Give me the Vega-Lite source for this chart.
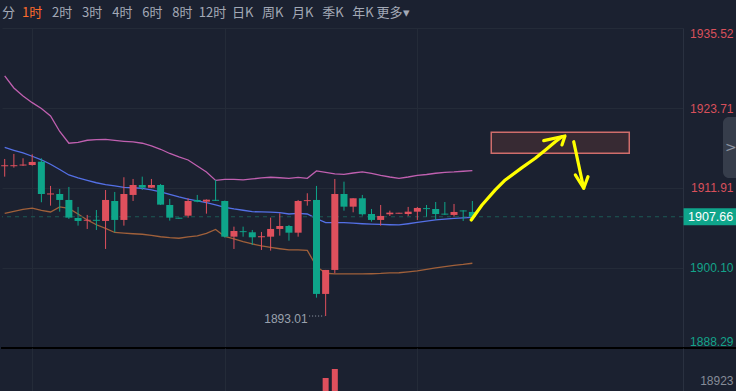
{
  "$schema": "https://vega.github.io/schema/vega-lite/v6.json",
  "background": "#1b2130",
  "padding": 0,
  "spacing": 0,
  "bounds": "flush",
  "config": {"view": {"stroke": null}, "axis": {"labelFont": "Liberation Sans"}},
  "datasets": {
    "k": [
      {"i":0,"o":1915.12,"h":1916.19,"l":1913.58,"c":1915.27,"up":1928.44,"mid":1917.89,"lo":1908.15},
      {"i":1,"o":1915.12,"h":1916.93,"l":1914.91,"c":1915.27,"up":1926.67,"mid":1917.47,"lo":1908.44},
      {"i":2,"o":1915.22,"h":1916.29,"l":1915.15,"c":1915.37,"up":1925.49,"mid":1917.08,"lo":1908.74},
      {"i":3,"o":1915.30,"h":1916.88,"l":1915.20,"c":1915.75,"up":1924.50,"mid":1916.59,"lo":1908.92},
      {"i":4,"o":1915.79,"h":1916.29,"l":1909.80,"c":1911.02,"up":1923.64,"mid":1916.07,"lo":1908.59},
      {"i":5,"o":1910.95,"h":1912.21,"l":1909.30,"c":1911.10,"up":1922.54,"mid":1915.41,"lo":1908.37},
      {"i":6,"o":1911.02,"h":1911.76,"l":1908.41,"c":1910.14,"up":1920.25,"mid":1914.64,"lo":1909.11},
      {"i":7,"o":1910.14,"h":1912.06,"l":1907.34,"c":1907.53,"up":1918.51,"mid":1913.83,"lo":1908.89},
      {"i":8,"o":1907.48,"h":1909.11,"l":1906.35,"c":1907.04,"up":1918.65,"mid":1913.39,"lo":1908.07},
      {"i":9,"o":1907.07,"h":1907.93,"l":1905.86,"c":1907.21,"up":1918.95,"mid":1913.02,"lo":1907.19},
      {"i":10,"o":1907.21,"h":1908.66,"l":1905.71,"c":1907.07,"up":1919.04,"mid":1912.68,"lo":1906.48},
      {"i":11,"o":1907.04,"h":1911.61,"l":1902.91,"c":1910.14,"up":1919.07,"mid":1912.41,"lo":1905.94},
      {"i":12,"o":1909.99,"h":1911.32,"l":1905.37,"c":1907.19,"up":1918.92,"mid":1912.21,"lo":1905.34},
      {"i":13,"o":1907.19,"h":1913.49,"l":1906.35,"c":1911.02,"up":1918.80,"mid":1912.01,"lo":1905.23},
      {"i":14,"o":1910.88,"h":1913.24,"l":1909.99,"c":1912.35,"up":1918.70,"mid":1911.94,"lo":1905.15},
      {"i":15,"o":1912.35,"h":1913.58,"l":1911.61,"c":1911.95,"up":1918.51,"mid":1911.84,"lo":1905.08},
      {"i":16,"o":1911.95,"h":1913.24,"l":1911.90,"c":1912.35,"up":1918.11,"mid":1911.62,"lo":1904.90},
      {"i":17,"o":1912.35,"h":1912.50,"l":1909.40,"c":1909.45,"up":1917.62,"mid":1911.32,"lo":1904.71},
      {"i":18,"o":1909.40,"h":1910.29,"l":1907.09,"c":1907.53,"up":1917.00,"mid":1910.95,"lo":1904.58},
      {"i":19,"o":1907.52,"h":1907.52,"l":1907.38,"c":1907.38,"up":1916.49,"mid":1910.58,"lo":1904.49},
      {"i":20,"o":1907.82,"h":1910.39,"l":1907.53,"c":1909.99,"up":1916.04,"mid":1910.26,"lo":1904.68},
      {"i":21,"o":1910.14,"h":1910.88,"l":1909.80,"c":1909.89,"up":1915.16,"mid":1910.02,"lo":1904.83},
      {"i":22,"o":1909.89,"h":1910.22,"l":1908.12,"c":1910.18,"up":1914.27,"mid":1909.73,"lo":1905.20},
      {"i":23,"o":1910.16,"h":1913.09,"l":1910.00,"c":1910.02,"up":1913.02,"mid":1909.40,"lo":1905.79},
      {"i":24,"o":1909.99,"h":1910.05,"l":1904.58,"c":1904.72,"up":1913.17,"mid":1909.06,"lo":1904.75},
      {"i":25,"o":1904.72,"h":1906.20,"l":1902.91,"c":1905.56,"up":1913.19,"mid":1908.81,"lo":1904.39},
      {"i":26,"o":1905.53,"h":1906.20,"l":1904.72,"c":1905.39,"up":1913.09,"mid":1908.62,"lo":1903.99},
      {"i":27,"o":1905.37,"h":1905.71,"l":1903.50,"c":1904.63,"up":1913.24,"mid":1908.41,"lo":1903.65},
      {"i":28,"o":1904.63,"h":1905.42,"l":1902.76,"c":1904.78,"up":1913.39,"mid":1908.37,"lo":1903.35},
      {"i":29,"o":1904.72,"h":1907.53,"l":1902.66,"c":1905.86,"up":1913.49,"mid":1908.33,"lo":1903.13},
      {"i":30,"o":1905.86,"h":1908.18,"l":1904.87,"c":1906.30,"up":1913.42,"mid":1908.27,"lo":1902.94},
      {"i":31,"o":1906.30,"h":1906.45,"l":1904.13,"c":1905.31,"up":1913.34,"mid":1908.07,"lo":1902.76},
      {"i":32,"o":1905.31,"h":1910.14,"l":1904.72,"c":1909.99,"up":1913.46,"mid":1908.15,"lo":1902.76},
      {"i":33,"o":1909.97,"h":1911.13,"l":1909.30,"c":1910.11,"up":1913.34,"mid":1908.07,"lo":1902.69},
      {"i":34,"o":1910.14,"h":1912.21,"l":1895.72,"c":1896.27,"up":1914.42,"mid":1907.38,"lo":1900.33},
      {"i":35,"o":1896.27,"h":1899.81,"l":1893.01,"c":1899.81,"up":1914.20,"mid":1906.79,"lo":1899.32,"v":20070},
      {"i":36,"o":1899.81,"h":1913.24,"l":1899.32,"c":1911.02,"up":1913.98,"mid":1906.79,"lo":1899.22,"v":23550},
      {"i":37,"o":1911.02,"h":1912.84,"l":1908.56,"c":1909.15,"up":1913.93,"mid":1906.79,"lo":1899.22},
      {"i":38,"o":1909.15,"h":1910.39,"l":1908.32,"c":1910.39,"up":1914.12,"mid":1906.72,"lo":1899.22},
      {"i":39,"o":1910.39,"h":1910.88,"l":1907.82,"c":1908.03,"up":1914.27,"mid":1906.63,"lo":1899.22},
      {"i":40,"o":1908.07,"h":1908.81,"l":1906.94,"c":1907.19,"up":1914.05,"mid":1906.57,"lo":1899.25},
      {"i":41,"o":1907.19,"h":1909.40,"l":1906.35,"c":1907.78,"up":1913.76,"mid":1906.53,"lo":1899.29},
      {"i":42,"o":1908.03,"h":1908.56,"l":1907.78,"c":1908.27,"up":1913.53,"mid":1906.48,"lo":1899.37},
      {"i":43,"o":1908.11,"h":1908.25,"l":1908.11,"c":1908.25,"up":1913.34,"mid":1906.45,"lo":1899.40},
      {"i":44,"o":1908.07,"h":1909.11,"l":1907.78,"c":1908.41,"up":1913.53,"mid":1906.63,"lo":1899.52},
      {"i":45,"o":1908.41,"h":1909.11,"l":1907.19,"c":1908.96,"up":1913.76,"mid":1906.82,"lo":1899.66},
      {"i":46,"o":1908.93,"h":1909.40,"l":1907.67,"c":1908.79,"up":1913.90,"mid":1907.01,"lo":1899.88},
      {"i":47,"o":1908.81,"h":1909.84,"l":1907.19,"c":1908.07,"up":1914.08,"mid":1907.19,"lo":1900.11},
      {"i":48,"o":1908.12,"h":1909.84,"l":1907.93,"c":1907.98,"up":1914.20,"mid":1907.31,"lo":1900.30},
      {"i":49,"o":1907.93,"h":1909.55,"l":1907.67,"c":1908.37,"up":1914.27,"mid":1907.41,"lo":1900.48},
      {"i":50,"o":1908.59,"h":1908.62,"l":1907.04,"c":1908.45,"up":1914.38,"mid":1907.51,"lo":1900.62},
      {"i":51,"o":1908.37,"h":1909.99,"l":1907.59,"c":1907.66,"up":1914.46,"mid":1907.59,"lo":1900.80}
    ],
    "arrows": [
      {"s":"a","k":0,"x":50.88,"y":1907.19},
      {"s":"a","k":1,"x":52.05,"y":1909.40},
      {"s":"a","k":2,"x":53.50,"y":1911.62},
      {"s":"a","k":3,"x":54.59,"y":1913.09},
      {"s":"a","k":4,"x":56.41,"y":1914.91},
      {"s":"a","k":5,"x":57.86,"y":1916.29},
      {"s":"a","k":6,"x":58.97,"y":1917.52},
      {"s":"a","k":7,"x":60.04,"y":1918.74},
      {"s":"a","k":8,"x":60.77,"y":1919.48},
      {"s":"ah","k":0,"x":58.78,"y":1918.89},
      {"s":"ah","k":1,"x":61.10,"y":1919.58},
      {"s":"ah","k":2,"x":60.77,"y":1918.26},
      {"s":"b","k":0,"x":62.05,"y":1918.74},
      {"s":"b","k":1,"x":63.14,"y":1911.87},
      {"s":"bh","k":0,"x":62.23,"y":1913.83},
      {"s":"bh","k":1,"x":63.14,"y":1911.87},
      {"s":"bh","k":2,"x":63.61,"y":1913.58}
    ],
    "tb": [
      {"t":"分"},{"t":"1时"},{"t":"2时"},{"t":"3时"},{"t":"4时"},{"t":"6时"},{"t":"8时"},
      {"t":"12时"},{"t":"日K"},{"t":"周K"},{"t":"月K"},{"t":"季K"},{"t":"年K"},{"t":"更多▾"}
    ]
  },
  "vconcat": [
    {
      "width": 391,
      "height": 28,
      "data": {"name": "tb"},
      "layer": [
        {
          "transform": [{"filter": "datum.t == '分'"}],
          "mark": {"type": "text", "align": "left", "baseline": "middle", "fontSize": 13, "font": "Noto Sans CJK SC", "dy": -1.5, "color": "#a3a9b6"},
          "encoding": {
            "x": {"field": "t", "type": "ordinal", "axis": null,
              "scale": {"type": "point", "padding": 0, "domain": ["分","1时","2时","3时","4时","6时","8时","12时","日K","周K","月K","季K","年K","更多▾"]}},
            "text": {"field": "t"}
          }
        },
        {
          "transform": [{"filter": "datum.t != '分'"}],
          "mark": {"type": "text", "align": "center", "baseline": "middle", "fontSize": 13, "font": "Noto Sans CJK SC", "dy": -1.5},
          "encoding": {
            "x": {"field": "t", "type": "ordinal", "axis": null},
            "text": {"field": "t"},
            "color": {"condition": {"test": "datum.t == '1时'", "value": "#ff6b2d"}, "value": "#a3a9b6"}
          }
        }
      ]
    },
    {
      "width": 681,
      "height": 320,
      "data": {"name": "k"},
      "layer": [
        {
          "mark": {"type": "line", "color": "#c060b0", "strokeWidth": 1.3},
          "encoding": {
            "x": {"field": "i", "type": "quantitative",
              "scale": {"domain": [-0.294, 73.97], "nice": false, "zero": false, "padding": 0},
              "axis": {"orient": "bottom", "values": [3, 24, 45], "grid": true, "gridColor": "#242b38", "labels": false, "ticks": false, "domain": false, "title": null, "minExtent": 0, "maxExtent": 0}},
            "y": {"field": "up", "type": "quantitative",
              "scale": {"domain": [1888.29, 1935.52], "nice": false, "zero": false, "padding": 0},
              "axis": {"orient": "right", "values": [1935.52, 1923.71, 1911.91, 1900.10, 1888.29], "format": ".2f", "grid": true, "gridColor": "#242b38", "ticks": false, "domain": true, "domainColor": "#2a3140", "labelAlign": "right", "labelPadding": 50, "labelFontSize": 12, "labelFlush": true, "labelColor": {"condition": {"test": "datum.value > 1907.66", "value": "#d9505b"}, "value": "#13a48a"}, "title": null, "minExtent": 55, "maxExtent": 55}}
          }
        },
        {
          "mark": {"type": "line", "color": "#5470e6", "strokeWidth": 1.3},
          "encoding": {"x": {"field": "i", "type": "quantitative"}, "y": {"field": "mid", "type": "quantitative"}}
        },
        {
          "mark": {"type": "line", "color": "#a0603a", "strokeWidth": 1.3},
          "encoding": {"x": {"field": "i", "type": "quantitative"}, "y": {"field": "lo", "type": "quantitative"}}
        },
        {
          "data": {"values": [{"p": 1907.66}]},
          "mark": {"type": "rule", "color": "#1d5a55", "strokeDash": [4, 4], "strokeWidth": 1},
          "encoding": {"y": {"field": "p", "type": "quantitative"}}
        },
        {
          "mark": {"type": "rule", "strokeWidth": 1},
          "encoding": {
            "x": {"field": "i", "type": "quantitative"},
            "y": {"field": "l", "type": "quantitative"},
            "y2": {"field": "h"},
            "color": {"condition": {"test": "datum.c >= datum.o", "value": "#df505d"}, "value": "#0ea58a"}
          }
        },
        {
          "mark": {"type": "bar", "size": 7},
          "encoding": {
            "x": {"field": "i", "type": "quantitative"},
            "y": {"field": "o", "type": "quantitative"},
            "y2": {"field": "c"},
            "color": {"condition": {"test": "datum.c >= datum.o", "value": "#df505d"}, "value": "#0ea58a"}
          }
        },
        {
          "data": {"values": [{"i": 35, "p": 1893.01}]},
          "mark": {"type": "text", "align": "right", "baseline": "middle", "dx": -18, "dy": 3, "fontSize": 12, "color": "#9aa1ad"},
          "encoding": {"x": {"field": "i", "type": "quantitative"}, "y": {"field": "p", "type": "quantitative"}, "text": {"field": "p", "format": ".2f"}}
        },
        {
          "data": {"values": [{}]},
          "mark": {"type": "rule", "color": "#9aa1ad", "strokeDash": [1, 2], "strokeWidth": 1},
          "encoding": {"x": {"datum": 33.2}, "x2": {"datum": 34.85}, "y": {"datum": 1893.01}}
        },
        {
          "data": {"values": [{"x1": 53.06, "x2": 68.11, "y1": 1917.03, "y2": 1920.13}]},
          "mark": {"type": "rect", "fill": "#372a33", "stroke": "#cf6d6b", "strokeWidth": 1.5},
          "encoding": {"x": {"field": "x1", "type": "quantitative"}, "x2": {"field": "x2"}, "y": {"field": "y1", "type": "quantitative"}, "y2": {"field": "y2"}}
        },
        {
          "data": {"name": "arrows"},
          "mark": {"type": "line", "color": "#ffff00", "strokeWidth": 3.2, "strokeCap": "round", "strokeJoin": "round"},
          "encoding": {
            "x": {"field": "x", "type": "quantitative"},
            "y": {"field": "y", "type": "quantitative"},
            "detail": {"field": "s"},
            "order": {"field": "k"}
          }
        },
        {
          "data": {"values": [{}]},
          "mark": {"type": "rect", "color": "#363d4b", "cornerRadiusTopLeft": 6, "cornerRadiusBottomLeft": 6},
          "encoding": {"x": {"datum": 78.33}, "x2": {"datum": 79.96}, "y": {"datum": 1913.39}, "y2": {"datum": 1922.39}}
        },
        {
          "data": {"values": [{}]},
          "mark": {"type": "text", "text": ">", "align": "center", "baseline": "middle", "fontSize": 14, "font": "DejaVu Sans", "color": "#9097a3"},
          "encoding": {"x": {"datum": 79.2}, "y": {"datum": 1917.81}}
        },
        {
          "data": {"values": [{"p": 1907.66}]},
          "mark": {"type": "rect", "color": "#0fa58b"},
          "encoding": {"x": {"datum": 74.03}, "x2": {"datum": 79.96}, "y": {"datum": 1906.40}, "y2": {"datum": 1908.92}}
        },
        {
          "data": {"values": [{"p": 1907.66}]},
          "mark": {"type": "text", "align": "right", "baseline": "middle", "fontSize": 12.5, "color": "#ffffff"},
          "encoding": {"x": {"datum": 79.45}, "y": {"field": "p", "type": "quantitative"}, "text": {"field": "p", "format": ".2f"}}
        },
        {
          "data": {"values": [{}]},
          "mark": {"type": "rule", "color": "#000000", "strokeWidth": 2},
          "encoding": {"x": {"datum": -0.4}, "x2": {"datum": 79.96}, "y": {"datum": 1888.29}}
        }
      ]
    },
    {
      "width": 681,
      "height": 43,
      "data": {"name": "k"},
      "mark": {"type": "bar", "size": 6, "clip": true},
      "encoding": {
        "x": {"field": "i", "type": "quantitative",
          "scale": {"domain": [-0.294, 73.97], "nice": false, "zero": false, "padding": 0},
          "axis": {"orient": "bottom", "values": [3, 24, 45], "grid": true, "gridColor": "#242b38", "labels": false, "ticks": false, "domain": false, "title": null, "minExtent": 0, "maxExtent": 0}},
        "y": {"field": "v", "type": "quantitative",
          "scale": {"domain": [15054, 31652], "nice": false, "zero": false, "padding": 0},
          "axis": {"orient": "right", "values": [18923], "format": "d", "grid": false, "ticks": false, "domain": true, "domainColor": "#2a3140", "labelAlign": "right", "labelPadding": 50, "labelFontSize": 12, "labelColor": "#868c98", "title": null, "minExtent": 55, "maxExtent": 55}},
        "y2": {"datum": 0},
        "color": {"condition": {"test": "datum.c >= datum.o", "value": "#df505d"}, "value": "#0ea58a"}
      }
    }
  ]
}
